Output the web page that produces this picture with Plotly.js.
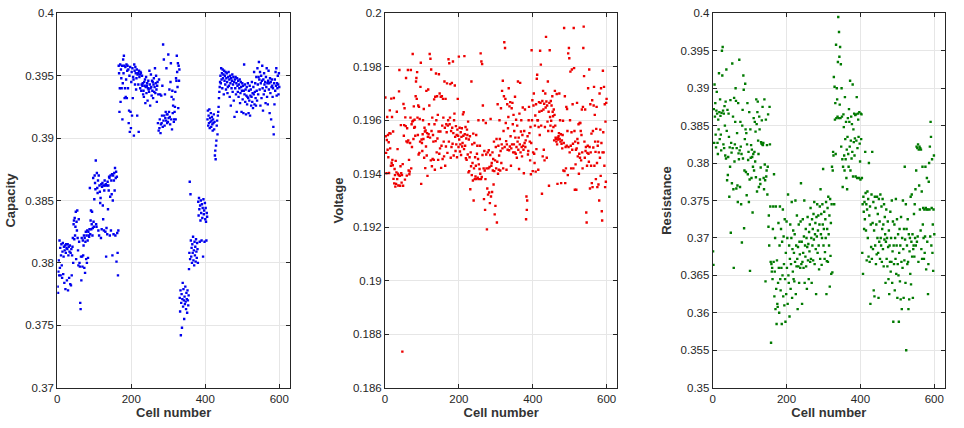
<!DOCTYPE html>
<html>
<head>
<meta charset="utf-8">
<script src="https://cdn.plot.ly/plotly-3.0.1.min.js"></script>
<style>html,body{margin:0;padding:0;background:#fff;}#chart{width:964px;height:428px;}</style>
</head>
<body>
<div id="chart"></div>
<script>
// Panel titles / tick settings
var panelTitles = ["Capacity", "Voltage", "Resistance"];
var xTitle = "Cell number";
var xTickVals = [0, 200, 400, 600];

// Capacity per cell (cells 1..600)
var capacity = [
0.3781,0.3776,0.3793,0.3802,0.3790,0.3818,0.3796,0.3812,0.3790,0.3806,0.3815,0.3798,0.3788,0.3809,0.3816,0.3791,0.3805,0.3813,0.3784,0.3810,
0.3814,0.3779,0.3808,0.3815,0.3812,0.3786,0.3811,0.3815,0.3778,0.3806,0.3813,0.3788,0.3809,0.3814,0.3783,0.3808,0.3782,0.3811,0.3790,0.3806,
0.3813,0.3820,0.3800,0.3831,0.3834,0.3819,0.3836,0.3822,0.3829,0.3841,0.3803,0.3833,0.3826,0.3842,0.3820,0.3810,0.3798,0.3835,0.3817,0.3800,
0.3797,0.3768,0.3763,0.3805,0.3786,0.3820,0.3805,0.3797,0.3818,0.3806,0.3814,0.3822,0.3796,0.3820,0.3792,0.3817,0.3825,0.3803,0.3822,0.3800,
0.3826,0.3818,0.3804,0.3825,0.3822,0.3821,0.3827,0.3860,0.3823,0.3834,0.3842,0.3827,0.3831,0.3841,0.3822,0.3828,0.3868,0.3833,0.3829,0.3851,
0.3870,0.3864,0.3859,0.3882,0.3831,0.3829,0.3872,0.3860,0.3856,0.3866,0.3826,0.3870,0.3822,0.3862,0.3857,0.3848,0.3852,0.3820,0.3863,0.3827,
0.3861,0.3864,0.3846,0.3835,0.3862,0.3826,0.3858,0.3866,0.3862,0.3825,0.3863,0.3805,0.3828,0.3862,0.3823,0.3865,0.3843,0.3862,0.3858,0.3869,
0.3868,0.3822,0.3853,0.3870,0.3826,0.3866,0.3855,0.3871,0.3806,0.3850,0.3870,0.3823,0.3866,0.3872,0.3858,0.3876,0.3822,0.3868,0.3873,0.3801,
0.3869,0.3824,0.3808,0.3790,0.3826,
0.3958,0.3952,0.3921,0.3940,0.3959,0.3929,0.3955,0.3948,0.3940,0.3958,0.3915,0.3944,0.3963,0.3952,0.3966,0.3958,0.3932,0.3940,0.3957,0.3933,
0.3947,0.3959,0.3932,0.3954,0.3958,0.3940,0.3955,0.3912,0.3922,0.3950,0.3905,0.3957,0.3921,0.3908,0.3945,0.3953,0.3918,0.3956,0.3932,0.3949,
0.3947,0.3902,0.3959,0.3954,0.3943,0.3957,0.3952,0.3939,0.3948,0.3955,0.3918,0.3951,0.3952,0.3943,0.3905,0.3954,0.3949,0.3951,0.3940,0.3953,
0.3952,0.3938,0.3943,0.3950,0.3942,0.3944,0.3935,0.3938,0.3933,0.3945,0.3942,0.3947,0.3928,0.3941,0.3949,0.3936,0.3942,0.3944,0.3930,0.3940,
0.3946,0.3939,0.3937,0.3954,0.3943,0.3926,0.3940,0.3951,0.3941,0.3934,0.3946,0.3938,0.3945,0.3932,0.3943,0.3948,0.3937,0.3941,0.3956,0.3936,
0.3944,0.3950,0.3939,0.3929,0.3942,0.3945,0.3912,0.3935,0.3906,0.3947,0.3908,0.3915,0.3935,0.3904,0.3911,0.3934,0.3912,0.3918,0.3942,0.3909,
0.3975,0.3914,0.3963,0.3918,0.3910,0.3935,0.3916,0.3921,0.3914,0.3956,0.3919,0.3912,0.3919,0.3913,0.3967,0.3916,0.3921,0.3939,0.3917,0.3911,
0.3945,0.3960,0.3915,0.3933,0.3907,0.3938,0.3920,0.3926,0.3931,0.3913,0.3915,0.3921,0.3925,0.3937,0.3915,0.3948,0.3946,0.3966,0.3953,0.3941,
0.3960,0.3924,0.3958,0.3946,0.3955,
0.3772,0.3761,0.3778,0.3742,0.3768,0.3775,0.3748,0.3771,0.3784,0.3765,0.3779,0.3770,0.3755,0.3773,0.3767,0.3781,0.3769,0.3763,0.3776,0.3771,0.3760,0.3778,0.3770,0.3766,0.3774,
0.3795,0.3808,0.3865,0.3803,0.3855,0.3818,0.3805,0.3812,0.3800,0.3815,0.3808,0.3821,0.3802,0.3810,0.3798,0.3817,0.3806,0.3813,0.3801,0.3819,0.3809,0.3804,0.3816,0.3811,0.3800,
0.3849,0.3838,0.3852,0.3843,0.3817,0.3846,0.3834,0.3850,0.3840,0.3818,0.3847,0.3836,0.3844,0.3805,0.3851,0.3839,0.3842,0.3817,0.3848,0.3835,0.3844,0.3833,0.3818,0.3840,0.3837,
0.3915,0.3922,0.3910,0.3918,0.3912,0.3923,0.3908,0.3916,0.3913,0.3920,0.3909,0.3914,0.3917,0.3911,0.3906,0.3915,0.3912,0.3919,0.3907,0.3913,0.3886,0.3890,0.3883,0.3894,0.3898,0.3910,0.3914,0.3903,0.3918,0.3921,0.3925,0.3932,0.3937,0.3941,0.3945,
0.3950,0.3944,0.3956,0.3947,0.3952,0.3940,0.3955,0.3948,0.3951,0.3935,0.3954,0.3946,0.3950,0.3943,0.3953,0.3939,0.3948,0.3952,0.3945,0.3936,
0.3941,0.3949,0.3953,0.3942,0.3947,0.3933,0.3950,0.3944,0.3926,0.3948,0.3940,0.3946,0.3951,0.3937,0.3943,0.3949,0.3930,0.3945,0.3917,0.3947,
0.3940,0.3949,0.3935,0.3944,0.3921,0.3948,0.3942,0.3937,0.3946,0.3933,0.3943,0.3940,0.3947,0.3928,0.3936,0.3945,0.3941,0.3921,0.3938,0.3944,
0.3931,0.3942,0.3920,0.3938,0.3959,0.3935,0.3943,0.3929,0.3939,0.3919,0.3934,0.3941,0.3927,0.3933,0.3944,0.3932,0.3920,0.3938,0.3930,0.3942,
0.3918,0.3934,0.3939,0.3926,0.3933,0.3945,0.3929,0.3936,0.3924,0.3941,0.3935,0.3953,0.3927,0.3937,0.3944,0.3932,0.3926,0.3949,0.3938,0.3930,
0.3956,0.3943,0.3935,0.3949,0.3961,0.3947,0.3939,0.3953,0.3926,0.3944,0.3950,0.3932,0.3946,0.3958,0.3940,0.3922,0.3947,0.3935,0.3952,0.3943,
0.3938,0.3945,0.3928,0.3949,0.3941,0.3956,0.3933,0.3944,0.3927,0.3946,0.3954,0.3939,0.3944,0.3920,0.3948,0.3936,0.3945,0.3915,0.3941,0.3947,
0.3942,0.3933,0.3940,0.3909,0.3903,0.3944,0.3927,0.3947,0.3938,0.3953,0.3942,0.3956,0.3934,0.3944,0.3940,0.3950,0.3943,0.3935,0.3952,0.3941
];

// Voltage per cell (cells 1..600)
var voltage = [
0.19685,0.19540,0.19478,0.19402,0.19526,0.19612,0.19490,0.19545,0.19462,0.19518,0.19403,0.19552,0.19637,0.19495,0.19550,0.19430,0.19681,0.19441,0.19612,0.19452,
0.19432,0.19558,0.19381,0.19683,0.19364,0.19418,0.19395,0.19352,0.19448,0.19362,0.19405,0.19632,0.19380,0.19492,0.19400,0.19356,0.19395,0.19708,0.19788,0.19392,
0.19355,0.19428,0.19582,0.19402,0.19367,0.19395,0.18735,0.19436,0.19355,0.19661,0.19542,0.19582,0.19645,0.19378,0.19611,0.19578,0.19758,0.19521,0.19393,0.19570,
0.19518,0.19788,0.19525,0.19412,0.19452,0.19398,0.19408,0.19515,0.19610,0.19788,0.19420,0.19585,0.19500,0.19595,0.19848,0.19598,0.19530,0.19652,0.19572,0.19602,
0.19575,0.19542,0.19690,0.19745,0.19758,0.19680,0.19780,0.19610,0.19545,0.19655,0.19472,0.19650,0.19478,0.19605,0.19520,0.19725,0.19815,0.19362,0.19528,0.19515,
0.19485,0.19548,0.19600,0.19530,0.19642,0.19460,0.19572,0.19558,0.19421,0.19562,0.19502,0.19710,0.19468,0.19552,0.19392,0.19538,0.19715,0.19548,0.19585,0.19655,
0.19848,0.19535,0.19830,0.19450,0.19790,0.19560,0.19428,0.19610,0.19455,0.19545,0.19520,0.19452,0.19678,0.19585,0.19415,0.19688,0.19522,0.19775,0.19600,0.19480,
0.19690,0.19532,0.19620,0.19452,0.19558,0.19772,0.19475,0.19700,0.19495,0.19558,0.19688,0.19422,0.19505,0.19690,0.19580,0.19455,0.19680,0.19610,0.19520,0.19465,
0.19745,0.19572,0.19430,0.19680,0.19502,0.19585,0.19555,0.19738,0.19478,0.19580,0.19600,0.19828,0.19520,0.19813,0.19585,0.19610,0.19735,0.19460,0.19560,0.19500,
0.19740,0.19572,0.19512,0.19820,0.19552,0.19468,0.19600,0.19625,0.19730,0.19538,0.19485,0.19578,0.19510,0.19545,0.19462,0.19565,0.19680,0.19542,0.19500,0.19838,
0.19528,0.19572,0.19483,0.19510,0.19555,0.19470,0.19538,0.19570,0.19502,0.19515,0.19622,0.19542,0.19630,0.19492,0.19840,0.19548,0.19505,0.19575,0.19458,0.19532,
0.19452,0.19565,0.19545,0.19472,0.19595,0.19405,0.19528,0.19410,0.19462,0.19540,0.19342,0.19480,0.19428,0.19745,0.19395,0.19510,0.19440,0.19375,0.19550,0.19300,
0.19420,0.19515,0.19380,0.19462,0.19390,0.19430,0.19545,0.19380,0.19475,0.19505,0.19385,0.19455,0.19600,0.19435,0.19380,0.19418,0.19505,0.19400,0.19850,0.19380,
0.19820,0.19388,0.19810,0.19470,0.19655,0.19600,0.19420,0.19305,0.19485,0.19412,0.19265,0.19380,0.19590,0.19472,0.19420,0.19192,0.19345,0.19480,0.19322,0.19420,
0.19488,0.19330,0.19425,0.19290,0.19470,0.19605,0.19315,0.19430,0.19440,0.19332,0.19480,0.19412,0.19455,0.19360,0.19520,0.19410,0.19248,0.19450,0.19280,0.19500,
0.19420,0.19530,0.19218,0.19445,0.19660,0.19400,0.19505,0.19415,0.19468,0.19600,0.19530,0.19412,0.19485,0.19645,0.19440,0.19510,0.19710,0.19495,0.19748,0.19420,
0.19560,0.19690,0.19892,0.19500,0.19870,0.19680,0.19590,0.19522,0.19415,0.19510,0.19660,0.19490,0.19570,0.19612,0.19720,0.19488,0.19652,0.19502,0.19668,0.19540,
0.19430,0.19495,0.19645,0.19510,0.19665,0.19585,0.19480,0.19620,0.19510,0.19560,0.19480,0.19688,0.19535,0.19475,0.19602,0.19500,0.19460,0.19580,0.19520,0.19745,
0.19490,0.19535,0.19418,0.19625,0.19510,0.19740,0.19480,0.19558,0.19600,0.19500,0.19465,0.19545,0.19648,0.19505,0.19490,0.19402,0.19560,0.19515,0.19640,0.19500,
0.19525,0.19230,0.19315,0.19265,0.19300,0.19540,0.19472,0.19485,0.19600,0.19650,0.19552,0.19520,0.19450,0.19575,0.19398,0.19515,0.19862,0.19600,0.19675,0.19410,
0.19480,0.19655,0.19700,0.19475,0.19440,0.19580,0.19618,0.19408,0.19660,0.19492,0.19755,0.19770,0.19600,0.19600,0.19415,0.19575,0.19668,0.19632,0.19545,0.19860,
0.19665,0.19808,0.19580,0.19635,0.19325,0.19672,0.19465,0.19710,0.19640,0.19490,0.19662,0.19450,0.19575,0.19700,0.19648,0.19912,0.19670,0.19460,0.19655,0.19595,
0.19745,0.19560,0.19632,0.19355,0.19665,0.19862,0.19612,0.19580,0.19672,0.19598,0.19655,0.19560,0.19690,0.19632,0.19615,0.19575,0.19640,0.19525,0.19620,0.19710,
0.19580,0.19535,0.19530,0.19520,0.19698,0.19510,0.19362,0.19535,0.19528,0.19540,0.19552,0.19700,0.19530,0.19600,0.19520,0.19548,0.19365,0.19512,0.19525,0.19495,
0.19545,0.19598,0.19412,0.19515,0.19945,0.19410,0.19690,0.19365,0.19500,0.19420,0.19650,0.19505,0.19642,0.19560,0.19395,0.19850,0.19500,0.19870,0.19832,0.19480,
0.19600,0.19782,0.19505,0.19420,0.19555,0.19790,0.19490,0.19660,0.19512,0.19420,0.19945,0.19795,0.19560,0.19340,0.19520,0.19435,0.19490,0.19340,0.19495,0.19665,
0.19530,0.19465,0.19515,0.19585,0.19400,0.19475,0.19590,0.19460,0.19590,0.19560,0.19450,0.19545,0.19640,0.19480,0.19420,0.19650,0.19870,0.19950,0.19765,0.19520,
0.19460,0.19640,0.19485,0.19500,0.19255,0.19218,0.19430,0.19478,0.19505,0.19720,0.19475,0.19445,0.19790,0.19500,0.19345,0.19660,0.19480,0.19430,0.19550,0.19365,
0.19675,0.19350,0.19560,0.19498,0.19655,0.19725,0.19430,0.19620,0.19520,0.19482,0.19380,0.19568,0.19650,0.19440,0.19350,0.19505,0.19520,0.19360,0.19480,0.19300,
0.19700,0.19460,0.19565,0.19392,0.19720,0.19515,0.19260,0.19225,0.19480,0.19785,0.19555,0.19480,0.19725,0.19430,0.19660,0.19350,0.19595,0.19370,0.19665,0.19680
];

// Resistance per cell (cells 1..600)
var resistance = [
0.3682,0.3664,0.3872,0.3827,0.3905,0.3862,0.3880,0.3838,0.3821,0.3870,0.3895,0.3866,0.3827,0.3812,0.3858,0.3845,0.3920,0.3868,0.3832,0.3885,
0.3863,0.3838,0.3817,0.3867,0.3950,0.3917,0.3955,0.3870,0.3825,0.3866,0.3820,0.3876,0.3850,0.3810,0.3882,0.3806,0.3925,0.3843,0.3777,0.3871,
0.3784,0.3808,0.3866,0.3835,0.3755,0.3821,0.3795,0.3884,0.3707,0.3827,0.3814,0.3773,0.3933,0.3820,0.3862,0.3765,0.3660,0.3887,0.3802,0.3825,
0.3855,0.3900,0.3883,0.3766,0.3820,0.3840,0.3770,0.3748,0.3880,0.3813,0.3805,0.3938,0.3817,0.3768,0.3855,0.3822,0.3745,0.3812,0.3694,0.3850,
0.3871,0.3806,0.3917,0.3898,0.3713,0.3790,0.3832,0.3906,0.3845,0.3788,0.3840,0.3757,0.3825,0.3880,0.3785,0.3804,0.3815,0.3748,0.3868,0.3778,
0.3656,0.3845,0.3807,0.3824,0.3780,0.3818,0.3808,0.3734,0.3795,0.3812,0.3860,0.3790,0.3815,0.3855,0.3802,0.3842,0.3781,0.3885,0.3852,0.3762,
0.3868,0.3882,0.3830,0.3812,0.3768,0.3862,0.3845,0.3778,0.3772,0.3794,0.3828,0.3826,0.3857,0.3825,0.3875,0.3824,0.3827,0.3780,0.3765,0.3885,
0.3798,0.3777,0.3642,0.3858,0.3782,0.3790,0.3824,0.3758,0.3795,0.3865,0.3715,0.3730,0.3690,0.3875,0.3825,0.3742,0.3668,0.3560,0.3665,0.3655,
0.3660,0.3645,0.3712,0.3742,0.3668,0.3785,0.3622,0.3655,0.3700,0.3605,0.3742,0.3632,0.3585,0.3670,0.3612,0.3608,0.3640,0.3720,0.3660,0.3600,
0.3690,0.3742,0.3645,0.3630,0.3712,0.3660,0.3585,0.3695,0.3650,0.3738,0.3622,0.3702,0.3665,0.3610,0.3725,0.3645,0.3588,0.3680,0.3625,0.3722,
0.3660,0.3700,0.3612,0.3758,0.3650,0.3640,0.3690,0.3595,0.3672,0.3718,0.3632,0.3665,0.3700,0.3748,0.3620,0.3685,0.3655,0.3710,0.3645,0.3680,
0.3642,0.3705,0.3668,0.3750,0.3625,0.3690,0.3662,0.3730,0.3672,0.3605,0.3688,0.3662,0.3718,0.3640,0.3695,0.3678,0.3660,0.3722,0.3773,0.3665,
0.3695,0.3612,0.3668,0.3725,0.3680,0.3660,0.3702,0.3750,0.3640,0.3690,0.3675,0.3712,0.3662,0.3700,0.3632,0.3688,0.3728,0.3670,0.3692,0.3645,
0.3708,0.3682,0.3718,0.3668,0.3740,0.3672,0.3700,0.3640,0.3725,0.3690,0.3712,0.3670,0.3732,0.3698,0.3748,0.3665,0.3705,0.3720,0.3685,0.3625,
0.3728,0.3702,0.3745,0.3680,0.3710,0.3730,0.3690,0.3658,0.3718,0.3742,0.3672,0.3765,0.3705,0.3732,0.3664,0.3700,0.3745,0.3718,0.3792,0.3690,
0.3712,0.3735,0.3672,0.3681,0.3725,0.3700,0.3748,0.3625,0.3669,0.3712,0.3740,0.3668,0.3755,0.3705,0.3690,0.3730,0.3635,0.3752,0.3676,0.3720,
0.3652,0.3745,0.3795,0.3654,0.3790,0.3815,0.3810,0.3915,0.3745,0.3902,0.3858,0.3880,0.3812,0.3958,0.3860,0.3900,0.3885,0.3862,0.3935,0.3995,
0.3860,0.3975,0.3942,0.3878,0.3955,0.3860,0.3932,0.3822,0.3900,0.3862,0.3805,0.3768,0.3795,0.3865,0.3848,0.3810,0.3790,0.3888,0.3832,0.3805,
0.3855,0.3780,0.3818,0.3765,0.3835,0.3860,0.3812,0.3795,0.3872,0.3855,0.3822,0.3910,0.3790,0.3830,0.3862,0.3806,0.3852,0.3815,0.3905,0.3782,
0.3845,0.3828,0.3866,0.3810,0.3833,0.3864,0.3782,0.3865,0.3830,0.3888,0.3780,0.3820,0.3866,0.3858,0.3835,0.3780,0.3868,0.3826,0.3802,0.3778,
0.3866,0.3832,0.3865,0.3780,0.3680,0.3745,0.3652,0.3755,0.3735,0.3712,0.3748,0.3725,0.3815,0.3760,0.3710,0.3745,0.3670,0.3738,0.3762,0.3700,
0.3752,0.3675,0.3800,0.3730,0.3668,0.3742,0.3612,0.3718,0.3688,0.3758,0.3672,0.3815,0.3720,0.3685,0.3748,0.3630,0.3710,0.3622,0.3755,0.3690,
0.3740,0.3665,0.3718,0.3678,0.3755,0.3700,0.3732,0.3680,0.3620,0.3752,0.3695,0.3722,0.3672,0.3758,0.3700,0.3690,0.3742,0.3668,0.3712,0.3752,
0.3685,0.3718,0.3662,0.3745,0.3698,0.3728,0.3705,0.3640,0.3695,0.3738,0.3672,0.3700,0.3662,0.3722,0.3688,0.3645,0.3710,0.3625,0.3690,0.3668,
0.3735,0.3655,0.3700,0.3668,0.3750,0.3640,0.3682,0.3722,0.3588,0.3690,0.3665,0.3718,0.3630,0.3700,0.3672,0.3752,0.3652,0.3690,0.3725,0.3620,
0.3665,0.3705,0.3650,0.3588,0.3680,0.3712,0.3642,0.3690,0.3618,0.3728,0.3668,0.3605,0.3700,0.3660,0.3750,0.3685,0.3620,0.3712,0.3670,0.3795,
0.3698,0.3640,0.3745,0.3550,0.3712,0.3690,0.3665,0.3725,0.3668,0.3605,0.3705,0.3618,0.3682,0.3700,0.3652,0.3755,0.3638,0.3695,0.3758,0.3675,
0.3705,0.3620,0.3685,0.3690,0.3732,0.3675,0.3745,0.3700,0.3765,0.3690,0.3790,0.3822,0.3695,0.3820,0.3702,0.3825,0.3668,0.3818,0.3770,0.3822,
0.3738,0.3820,0.3710,0.3818,0.3685,0.3762,0.3672,0.3795,0.3718,0.3740,0.3700,0.3672,0.3738,0.3680,0.3702,0.3795,0.3740,0.3658,0.3738,0.3780,
0.3695,0.3738,0.3625,0.3665,0.3775,0.3800,0.3738,0.3822,0.3702,0.3855,0.3835,0.3690,0.3740,0.3805,0.3680,0.3718,0.3656,0.3738,0.3810,0.3705
];

function cells(arr) { var c = []; for (var i = 0; i < arr.length; i++) c.push(i + 1); return c; }

var markerBase = {symbol: 'square', size: 2.4};
var traces = [
  {x: cells(capacity), y: capacity, type: 'scatter', mode: 'markers', xaxis: 'x', yaxis: 'y',
   marker: Object.assign({}, markerBase, {color: '#0000ee'}), hoverinfo: 'x+y'},
  {x: cells(voltage), y: voltage, type: 'scatter', mode: 'markers', xaxis: 'x2', yaxis: 'y2',
   marker: Object.assign({}, markerBase, {color: '#ee0000'}), hoverinfo: 'x+y'},
  {x: cells(resistance), y: resistance, type: 'scatter', mode: 'markers', xaxis: 'x3', yaxis: 'y3',
   marker: Object.assign({}, markerBase, {color: '#007a00'}), hoverinfo: 'x+y'}
];

var W = 964, H = 428;
var yDom = [1 - 387.7 / H, 1 - 13.3 / H];
var xDoms = [[57.3 / W, 290 / W], [385 / W, 617.3 / W], [712.7 / W, 945 / W]];
var yRanges = [[0.37, 0.4], [0.186, 0.2], [0.35, 0.4]];
var yDticks = [0.005, 0.002, 0.005];

var tickFont = {family: 'Arial, "Liberation Sans", sans-serif', size: 11.5, color: '#262626'};
var titleFont = {family: 'Arial, "Liberation Sans", sans-serif', size: 13, color: '#333333', weight: 'bold'};

function xAxis(i) {
  return {
    domain: xDoms[i], anchor: i === 0 ? 'y' : 'y' + (i + 1), range: [0, 629],
    tickvals: xTickVals, ticks: 'inside', ticklen: 4, tickcolor: '#262626',
    showline: true, linecolor: '#262626', linewidth: 1, mirror: 'ticks',
    showgrid: true, gridcolor: '#e6e6e6', zeroline: false,
    tickfont: tickFont, title: {text: xTitle, font: titleFont, standoff: 4}
  };
}
function yAxis(i) {
  return {
    domain: yDom, anchor: i === 0 ? 'x' : 'x' + (i + 1), range: yRanges[i],
    dtick: yDticks[i], tick0: yRanges[i][0], ticks: 'inside', ticklen: 4, tickcolor: '#262626',
    showline: true, linecolor: '#262626', linewidth: 1, mirror: 'ticks',
    showgrid: true, gridcolor: '#e6e6e6', zeroline: false,
    tickfont: tickFont, title: {text: panelTitles[i], font: titleFont, standoff: 6}
  };
}

var layout = {
  width: W, height: H, margin: {l: 0, r: 0, t: 0, b: 0},
  paper_bgcolor: '#ffffff', plot_bgcolor: '#ffffff', showlegend: false,
  xaxis: xAxis(0), xaxis2: xAxis(1), xaxis3: xAxis(2),
  yaxis: yAxis(0), yaxis2: yAxis(1), yaxis3: yAxis(2)
};

Plotly.newPlot('chart', traces, layout, {displayModeBar: false, staticPlot: true});
</script>
</body>
</html>
